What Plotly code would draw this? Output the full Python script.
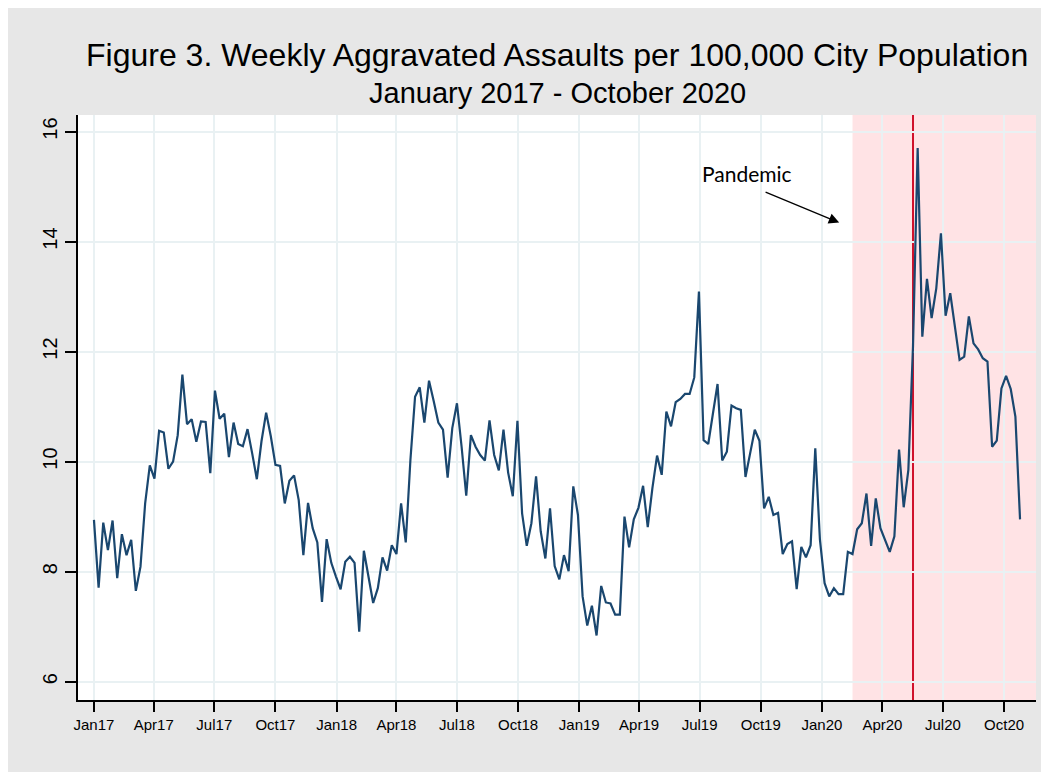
import pandas as pd
import plotly.graph_objects as go

# ---------------- data ----------------
start_date = "2017-01-01"   # first weekly observation
rate = [
    8.94, 7.71, 8.89, 8.39, 8.93, 7.88, 8.68, 8.30, 8.58, 7.65,
    8.09, 9.24, 9.93, 9.69, 10.56, 10.53, 9.87, 10.00, 10.48, 11.58,
    10.68, 10.77, 10.36, 10.73, 10.72, 9.79, 11.29, 10.78, 10.87, 10.08,
    10.71, 10.32, 10.28, 10.59, 10.15, 9.68, 10.37, 10.89, 10.46, 9.94,
    9.92, 9.24, 9.65, 9.75, 9.30, 8.30, 9.25, 8.79, 8.53, 7.45,
    8.59, 8.16, 7.91, 7.68, 8.18, 8.27, 8.16, 6.91, 8.38, 7.91,
    7.43, 7.70, 8.26, 8.02, 8.48, 8.32, 9.24, 8.53, 10.03, 11.18,
    11.35, 10.71, 11.47, 11.10, 10.71, 10.58, 9.71, 10.61, 11.06, 10.27,
    9.38, 10.48, 10.27, 10.12, 10.02, 10.75, 10.12, 9.84, 10.58, 9.80,
    9.37, 10.74, 9.06, 8.47, 8.88, 9.73, 8.73, 8.24, 9.15, 8.10,
    7.86, 8.30, 8.01, 9.55, 9.03, 7.55, 7.02, 7.38, 6.84, 7.74,
    7.44, 7.42, 7.22, 7.22, 9.00, 8.44, 8.95, 9.16, 9.56, 8.81,
    9.52, 10.11, 9.76, 10.91, 10.64, 11.08, 11.14, 11.23, 11.23, 11.53,
    13.09, 10.39, 10.32, 10.87, 11.41, 10.02, 10.18, 11.02, 10.97, 10.94,
    9.72, 10.15, 10.58, 10.38, 9.15, 9.36, 9.03, 9.07, 8.32, 8.50,
    8.55, 7.68, 8.45, 8.26, 8.48, 10.24, 8.58, 7.79, 7.55, 7.70,
    7.59, 7.59, 8.36, 8.32, 8.77, 8.88, 9.42, 8.47, 9.33, 8.79,
    8.58, 8.36, 8.64, 10.22, 9.17, 9.85, 12.10, 15.70, 12.27, 13.32,
    12.61, 13.15, 14.15, 12.65, 13.06, 12.45, 11.85, 11.91, 12.64, 12.15,
    12.04, 11.88, 11.82, 10.27, 10.38, 11.33, 11.56, 11.32, 10.82, 8.95,
]
dates = pd.date_range(start_date, periods=len(rate), freq="7D")

tick_dates = [
    "2017-01-01", "2017-04-01", "2017-07-01", "2017-10-01",
    "2018-01-01", "2018-04-01", "2018-07-01", "2018-10-01",
    "2019-01-01", "2019-04-01", "2019-07-01", "2019-10-01",
    "2020-01-01", "2020-04-01", "2020-07-01", "2020-10-01",
]
tick_labels = [
    "Jan17", "Apr17", "Jul17", "Oct17",
    "Jan18", "Apr18", "Jul18", "Oct18",
    "Jan19", "Apr19", "Jul19", "Oct19",
    "Jan20", "Apr20", "Jul20", "Oct20",
]
y_ticks = [6, 8, 10, 12, 14, 16]

pandemic_start = "2020-02-16"
event_date = "2020-05-17"
x_range = ["2016-12-08", "2020-11-18"]
y_range = [5.667, 16.30]

title_line1 = "Figure 3. Weekly Aggravated Assaults per 100,000 City Population"
title_line2 = "January 2017 - October 2020"
note_text = "Pandemic"
arrow_tail = ("2019-10-06", 14.91)
arrow_tip = ("2020-01-27", 14.345)

# ---------------- figure ----------------
FONT = "Liberation Sans, Arial, Helvetica, sans-serif"
GRID = "#e9f1f3"

fig = go.Figure()
fig.add_trace(go.Scatter(
    x=dates, y=rate, mode="lines",
    line=dict(color="#1a476f", width=2.2),
    hoverinfo="x+y", showlegend=False,
))

shapes = [
    # pandemic shading
    dict(type="rect", xref="x", yref="paper", x0=pandemic_start, x1=x_range[1],
         y0=0, y1=1, fillcolor="rgba(255,0,20,0.11)", line=dict(width=0),
         layer="between"),
    # event line
    dict(type="line", xref="x", yref="paper", x0=event_date, x1=event_date,
         y0=0, y1=1, line=dict(color="#d0112b", width=2), layer="between"),
]

annotations = [
    dict(text=title_line1, xref="paper", yref="paper", x=0.5, y=1.1034,
         xanchor="center", yanchor="middle", showarrow=False,
         font=dict(family=FONT, size=32, color="black")),
    dict(text=title_line2, xref="paper", yref="paper", x=0.5, y=1.0368,
         xanchor="center", yanchor="middle", showarrow=False,
         font=dict(family=FONT, size=29, color="black")),
    dict(text=note_text, xref="paper", yref="paper", x=0.698, y=0.9003,
         xanchor="center", yanchor="middle", showarrow=False,
         font=dict(family="Lato, sans-serif", size=21, color="black")),
    dict(text="", x=arrow_tip[0], y=arrow_tip[1], xref="x", yref="y",
         ax=arrow_tail[0], ay=arrow_tail[1], axref="x", ayref="y",
         showarrow=True, arrowhead=2, arrowsize=1.6, arrowwidth=1.3,
         arrowcolor="black", standoff=0, startstandoff=0),
]

fig.update_layout(
    width=1049, height=772,
    margin=dict(l=70, r=21, t=107, b=80, pad=0),
    paper_bgcolor="#e7e7e7",
    plot_bgcolor="white",
    shapes=shapes,
    annotations=annotations,
    showlegend=False,
    xaxis=dict(
        type="date", range=x_range,
        tickmode="array", tickvals=tick_dates, ticktext=tick_labels,
        ticks="outside", ticklen=10, tickwidth=1.5, tickcolor="black",
        showline=True, linecolor="black", linewidth=1.5,
        showgrid=True, gridcolor=GRID, gridwidth=1.5,
        zeroline=False,
        tickfont=dict(family=FONT, size=15, color="black"),
    ),
    yaxis=dict(
        range=y_range,
        tickmode="array", tickvals=y_ticks,
        ticks="outside", ticklen=11, tickwidth=1.5, tickcolor="black",
        tickangle=-90,
        showline=True, linecolor="black", linewidth=1.5,
        showgrid=True, gridcolor=GRID, gridwidth=1.5,
        zeroline=False,
        tickfont=dict(family=FONT, size=20, color="black"),
    ),
)

fig.write_html("out.html")
